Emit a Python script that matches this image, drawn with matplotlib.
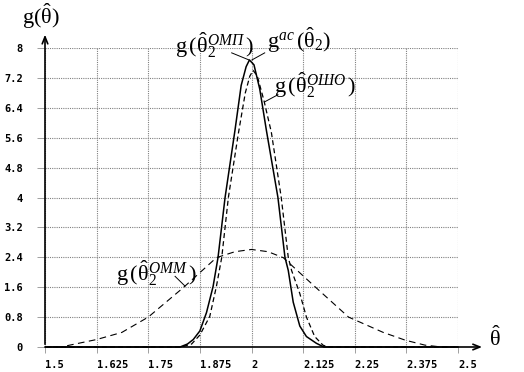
import matplotlib
matplotlib.use('Agg')
import matplotlib.pyplot as plt

plt.rcParams['mathtext.fontset'] = 'custom'
plt.rcParams['mathtext.rm'] = 'Liberation Serif'
plt.rcParams['mathtext.it'] = 'Liberation Serif:italic'

# кривые плотности
theta_omp = [1.50, 1.80, 1.827, 1.845, 1.859, 1.875, 1.891, 1.907, 1.919, 1.936, 1.96, 1.975,
             1.987, 1.995, 2.006, 2.02, 2.036, 2.064, 2.081, 2.089, 2.101, 2.117, 2.133, 2.157,
             2.175, 2.5]
g_omp = [0.0, 0.0, 0.0, 0.08, 0.2, 0.43, 0.92, 1.62, 2.4, 4.0, 5.8, 7.0,
         7.5, 7.68, 7.55, 6.9, 5.8, 4.0, 2.4, 2.05, 1.2, 0.56, 0.28, 0.1,
         0.0, 0.0]

theta_osho = [1.50, 1.83, 1.855, 1.875, 1.899, 1.915, 1.928, 1.944, 1.968, 1.985, 1.996, 2.004,
              2.014, 2.03, 2.048, 2.072, 2.089, 2.097, 2.117, 2.133, 2.153, 2.173, 2.185, 2.5]
g_osho = [0.0, 0.0, 0.08, 0.32, 0.82, 1.62, 2.4, 4.0, 5.7, 6.8, 7.25, 7.4,
          7.25, 6.6, 5.75, 4.0, 2.4, 2.05, 1.43, 0.8, 0.28, 0.05, 0.0, 0.0]

theta_omm = [1.50, 1.54, 1.56, 1.625, 1.686, 1.75, 1.835, 1.915, 1.96, 2.0, 2.04, 2.077,
             2.15, 2.235, 2.319, 2.373, 2.42, 2.46, 2.5]
g_omm = [0.0, 0.0, 0.05, 0.2, 0.39, 0.8, 1.59, 2.39, 2.55, 2.61, 2.55, 2.39,
         1.65, 0.8, 0.39, 0.18, 0.05, 0.0, 0.0]

xticks = [1.5, 1.625, 1.75, 1.875, 2, 2.125, 2.25, 2.375, 2.5]
xtick_labels = ['1.5', '1.625', '1.75', '1.875', '2', '2.125', '2.25', '2.375', '2.5']
yticks = [0, 0.8, 1.6, 2.4, 3.2, 4, 4.8, 5.6, 6.4, 7.2, 8]
ytick_labels = ['0', '0.8', '1.6', '2.4', '3.2', '4', '4.8', '5.6', '6.4', '7.2', '8']

# подписи кривых: текст, позиция текста, выноска
labels = [
    (r'$\mathrm{g}\,(\hat{\mathrm{\theta}}_2^{\mathit{ОМП}}\,)$', (1.91, 8.08), (1.952, 7.87), (1.994, 7.68)),
    (r'$\mathrm{g}^{\mathit{ac}}\,(\hat{\mathrm{\theta}}_2)$', (2.115, 8.21), (2.032, 7.87), (2.001, 7.68)),
    (r'$\mathrm{g}\,(\hat{\mathrm{\theta}}_2^{\mathit{ОШО}}\,)$', (2.155, 7.01), (2.064, 6.75), (2.032, 6.56)),
    (r'$\mathrm{g}\,(\hat{\mathrm{\theta}}_2^{\mathit{ОММ}}\,)$', (1.771, 1.97), (1.815, 1.89), (1.839, 1.63)),
]

fig = plt.figure(figsize=(5.24, 3.72), dpi=100)
ax = fig.add_axes([45 / 524, 25 / 372, 413 / 524, 299 / 372])
ax.set_xlim(1.5, 2.5)
ax.set_ylim(0, 8)

for s in ax.spines.values():
    s.set_visible(False)

ax.set_xticks(xticks)
ax.set_xticklabels(xtick_labels, ha='left', fontfamily='DejaVu Sans Mono', fontweight='bold', fontsize=7.5)
ax.set_yticks(yticks)
ax.set_yticklabels(ytick_labels, fontfamily='DejaVu Sans Mono', fontweight='bold', fontsize=7.5)
ax.tick_params(axis='x', length=4, width=0.6, color='#909090', pad=5)
ax.tick_params(axis='y', length=6, width=0.6, color='#909090', pad=10)
ax.grid(True, color='#808080', ls=(0, (1, 1)), lw=0.8)

ax.plot(theta_omm, g_omm, color='k', lw=0.8, ls=(0, (6, 4)), clip_on=False)
ax.plot(theta_osho, g_osho, color='k', lw=0.9, ls=(0, (4, 2.5)), clip_on=False)
ax.plot(theta_omp, g_omp, color='k', lw=1.1, clip_on=False)

# оси со стрелками
ax.annotate('', xy=(0, 1.054), xytext=(0, 0), xycoords='axes fraction',
            arrowprops=dict(arrowstyle='->,head_length=0.5,head_width=0.2', lw=1.2, color='k'))
ax.annotate('', xy=(1.065, 0), xytext=(0, 0), xycoords='axes fraction',
            arrowprops=dict(arrowstyle='->,head_length=0.5,head_width=0.2', lw=1.2, color='k'))

ax.text(-0.01, 1.105, r'$\mathrm{g}(\hat{\mathrm{\theta}})$', transform=ax.transAxes,
        ha='center', va='center', fontsize=16)
ax.text(1.09, 0.03, r'$\hat{\mathrm{\theta}}$', transform=ax.transAxes,
        ha='center', va='center', fontsize=16)

for txt, pos, p1, p2 in labels:
    ax.text(pos[0], pos[1], txt, ha='center', va='center', fontsize=16)
    ax.plot([p1[0], p2[0]], [p1[1], p2[1]], color='k', lw=0.7, clip_on=False)

plt.savefig('out.png', dpi=100)
plt.close()
